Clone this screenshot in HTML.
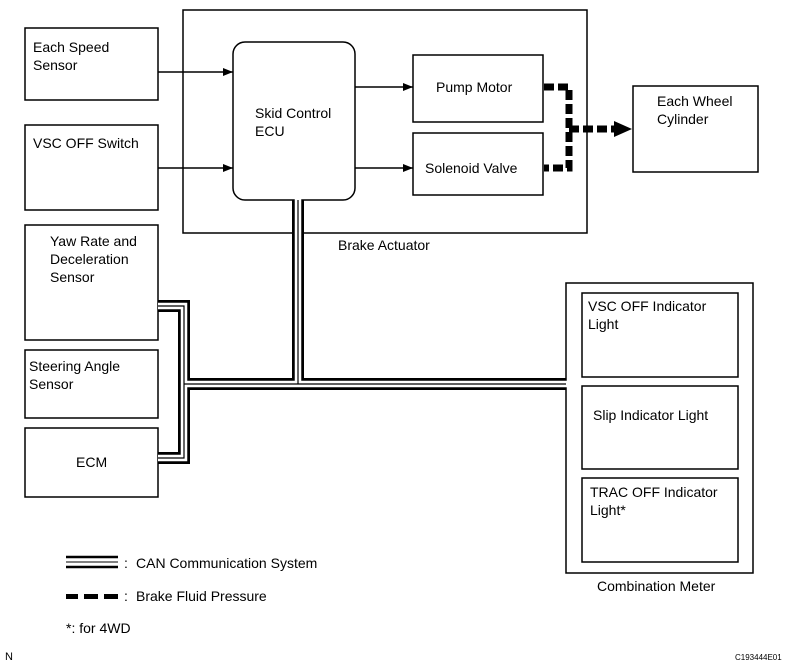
<!DOCTYPE html>
<html><head><style>body{margin:0;background:#fff}svg{display:block}text{font-family:"Liberation Sans",Arial,sans-serif;font-size:14px;fill:#000}</style></head>
<body>
<svg width="790" height="666" viewBox="0 0 790 666" xmlns="http://www.w3.org/2000/svg">
<defs><marker id="a" markerWidth="10" markerHeight="8" refX="10" refY="4" orient="auto" markerUnits="userSpaceOnUse"><path d="M0,0 L10,4 L0,8 z" fill="#000"/></marker></defs>
<g fill="none" stroke="#000" stroke-width="1.5">
<rect x="25" y="28" width="133" height="72"/>
<rect x="25" y="125" width="133" height="85"/>
<rect x="25" y="225" width="133" height="115"/>
<rect x="25" y="350" width="133" height="68"/>
<rect x="25" y="428" width="133" height="69"/>
<rect x="183" y="10" width="404" height="223"/>
<rect x="233" y="42" width="122" height="158" rx="12"/>
<rect x="413" y="55" width="130" height="67"/>
<rect x="413" y="133" width="130" height="62"/>
<rect x="633" y="86" width="125" height="86"/>
<rect x="566" y="283" width="187" height="290"/>
<rect x="582" y="293" width="156" height="84"/>
<rect x="582" y="386" width="156" height="83"/>
<rect x="582" y="478" width="156" height="84"/>
<line x1="158" y1="72" x2="233" y2="72" marker-end="url(#a)"/>
<line x1="158" y1="168" x2="233" y2="168" marker-end="url(#a)"/>
<line x1="355" y1="87" x2="413" y2="87" marker-end="url(#a)"/>
<line x1="355" y1="168" x2="413" y2="168" marker-end="url(#a)"/>
</g>
<g fill="none" stroke-linejoin="miter">
<g stroke="#000" stroke-width="12"><path d="M158,306 H184 V458 H158"/><path d="M184,384 H566"/><path d="M298,200 V384"/></g>
<g stroke="#fff" stroke-width="6.5"><path d="M158,306 H184 V458 H158"/><path d="M184,384 H567"/><path d="M298,199 V384"/></g>
<g stroke="#000" stroke-width="1.2"><path d="M158,306 H184 V458 H158"/><path d="M184,384 H566"/><path d="M298,200 V384"/></g>
</g>
<g fill="none" stroke="#000" stroke-width="7" stroke-dasharray="10,4">
<path d="M544,87 H569 V168 H544"/>
<path d="M569,129 H618"/>
</g>
<path d="M614,121 L632,129 L614,137 z" fill="#000"/>
<text x="33" y="52">Each Speed</text><text x="33" y="70">Sensor</text>
<text x="33" y="148">VSC OFF Switch</text>
<text x="50" y="246">Yaw Rate and</text><text x="50" y="264">Deceleration</text><text x="50" y="282">Sensor</text>
<text x="29" y="371">Steering Angle</text><text x="29" y="389">Sensor</text>
<text x="76" y="467">ECM</text>
<text x="255" y="118">Skid Control</text><text x="255" y="136">ECU</text>
<text x="436" y="92">Pump Motor</text>
<text x="425" y="173">Solenoid Valve</text>
<text x="657" y="106">Each Wheel</text><text x="657" y="124">Cylinder</text>
<text x="338" y="250">Brake Actuator</text>
<text x="588" y="311">VSC OFF Indicator</text><text x="588" y="329">Light</text>
<text x="593" y="420">Slip Indicator Light</text>
<text x="590" y="497">TRAC OFF Indicator</text><text x="590" y="515">Light*</text>
<text x="597" y="591">Combination Meter</text>
<g stroke="#000" fill="none"><line x1="66" y1="557" x2="118" y2="557" stroke-width="2.5"/><line x1="66" y1="562" x2="118" y2="562" stroke-width="1"/><line x1="66" y1="567" x2="118" y2="567" stroke-width="2.5"/></g>
<text x="124" y="568">:</text><text x="136" y="568">CAN Communication System</text>
<g fill="#000"><rect x="66" y="594" width="12" height="5"/><rect x="84" y="594" width="14" height="5"/><rect x="104" y="594" width="14" height="5"/></g>
<text x="124" y="601">:</text><text x="136" y="601">Brake Fluid Pressure</text>
<text x="66" y="633">*: for 4WD</text>
<text x="5" y="660" style="font-size:11px">N</text>
<text x="735" y="660" style="font-size:8px">C193444E01</text>
</svg>
</body></html>
